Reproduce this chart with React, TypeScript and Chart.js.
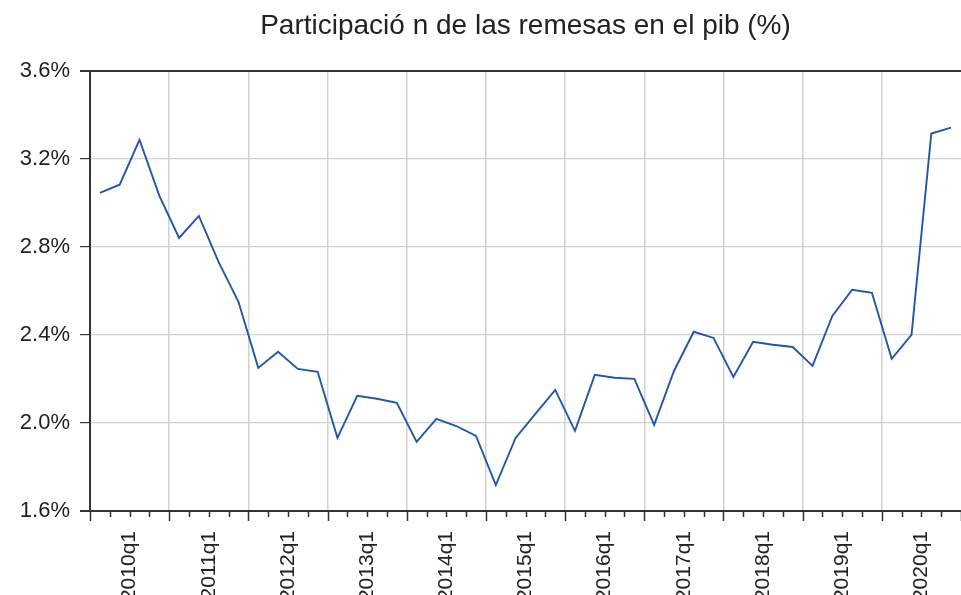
import React, { useEffect, useRef } from "react";
import { Chart, registerables } from "chart.js";

Chart.register(...registerables);

const TITLE = "Participació n de las remesas en el pib (%)";

// Quarterly observations, 2010q1 .. 2020q4
const remesasPib = [
  3.045, 3.082, 3.286, 3.032,
  2.84, 2.94, 2.73, 2.55,
  2.25, 2.323, 2.245, 2.232,
  1.932, 2.123, 2.11, 2.091,
  1.914, 2.018, 1.986, 1.941,
  1.718, 1.932, 2.041, 2.15,
  1.964, 2.218, 2.205, 2.2,
  1.991, 2.236, 2.414, 2.386,
  2.209, 2.368, 2.355, 2.345,
  2.259, 2.486, 2.605, 2.591,
  2.291, 2.4, 3.314, 3.341,
];

const yearLabels = [
  "2010q1", "2011q1", "2012q1", "2013q1", "2014q1", "2015q1",
  "2016q1", "2017q1", "2018q1", "2019q1", "2020q1",
];

const yTickValues = [1.6, 2.0, 2.4, 2.8, 3.2, 3.6];

const FONT = "'Liberation Sans', Arial, sans-serif";
const AXIS = "#333333";
const GRID = "#d2d2d2";
const LINE = "#2456a8";
const TEXT = "#222222";

const NQ = remesasPib.length;

const xTickMarks = {
  id: "xTickMarks",
  afterDraw(chart: any) {
    const s = chart.scales.x;
    const ctx = chart.ctx;
    ctx.save();
    ctx.strokeStyle = AXIS;
    ctx.lineWidth = 1.5;
    for (let i = 0; i <= NQ; i++) {
      const px = Math.round(s.getPixelForValue(i)) + 0.5;
      const len = i % 4 === 0 ? 10 : 6;
      ctx.beginPath();
      ctx.moveTo(px, s.top);
      ctx.lineTo(px, s.top + len);
      ctx.stroke();
    }
    ctx.restore();
  },
};

const centerTitle = {
  id: "centerTitle",
  beforeDraw(chart: any) {
    const tb = chart.titleBlock;
    if (tb) {
      tb.left = chart.chartArea.left;
      tb.right = chart.chartArea.right;
    }
  },
};

export default function App() {
  const ref = useRef<HTMLCanvasElement | null>(null);

  useEffect(() => {
    if (!ref.current) return;
    const chart = new Chart(ref.current, {
      type: "line",
      data: {
        datasets: [
          {
            data: remesasPib.map((v, i) => ({ x: i + 0.5, y: v })),
            borderColor: LINE,
            borderWidth: 1.9,
            pointRadius: 0,
            tension: 0,
            fill: false,
          },
        ],
      },
      options: {
        animation: false,
        responsive: true,
        maintainAspectRatio: false,
        layout: { padding: { left: 0, right: 0, top: 0, bottom: 0 } },
        plugins: {
          legend: { display: false },
          tooltip: { enabled: false },
          title: {
            display: true,
            text: TITLE,
            color: TEXT,
            font: { family: FONT, size: 28, weight: "normal" },
            padding: { top: 9, bottom: 28 },
          },
        },
        scales: {
          x: {
            type: "linear",
            min: 0,
            max: NQ,
            afterBuildTicks: (s: any) => {
              const t = [];
              for (let i = 0; i <= NQ; i++) t.push({ value: i });
              s.ticks = t;
            },
            afterFit: (s: any) => {
              s.height = 84;
              s.paddingLeft = 0;
              s.paddingRight = 0;
            },
            grid: {
              drawTicks: false,
              lineWidth: 1.5,
              color: (c: any) =>
                c.tick && c.tick.value % 4 === 0 && c.tick.value > 0 && c.tick.value < NQ
                  ? GRID
                  : "rgba(0,0,0,0)",
            },
            border: { display: true, color: AXIS, width: 2 },
            ticks: {
              autoSkip: false,
              minRotation: 90,
              maxRotation: 90,
              padding: 20,
              color: TEXT,
              font: { family: FONT, size: 21 },
              callback: (v: any) => {
                const n = Number(v);
                if (n % 4 === 2) return yearLabels[(n - 2) / 4] ?? "";
                return "";
              },
            },
          },
          y: {
            min: 1.6,
            max: 3.6,
            afterBuildTicks: (s: any) => {
              s.ticks = yTickValues.map((v) => ({ value: v }));
            },
            afterFit: (s: any) => {
              s.width = 90;
            },
            grid: {
              drawTicks: true,
              tickLength: 10,
              tickColor: AXIS,
              color: (c: any) =>
                c.tick && (c.tick.value === 3.6 || c.tick.value === 1.6) ? AXIS : GRID,
              lineWidth: (c: any) =>
                c.tick && (c.tick.value === 3.6 || c.tick.value === 1.6) ? 2 : 1.2,
            },
            border: { display: true, color: AXIS, width: 2 },
            ticks: {
              padding: 10,
              color: TEXT,
              font: { family: FONT, size: 22 },
              callback: (v: any) => Number(v).toFixed(1) + "%",
            },
          },
        },
      },
      plugins: [xTickMarks, centerTitle],
    } as any);
    return () => chart.destroy();
  }, []);

  return (
    <div
      style={{
        position: "fixed",
        left: 0,
        top: 0,
        width: 961,
        height: 595,
        background: "#ffffff",
      }}
    >
      <canvas ref={ref} />
    </div>
  );
}
